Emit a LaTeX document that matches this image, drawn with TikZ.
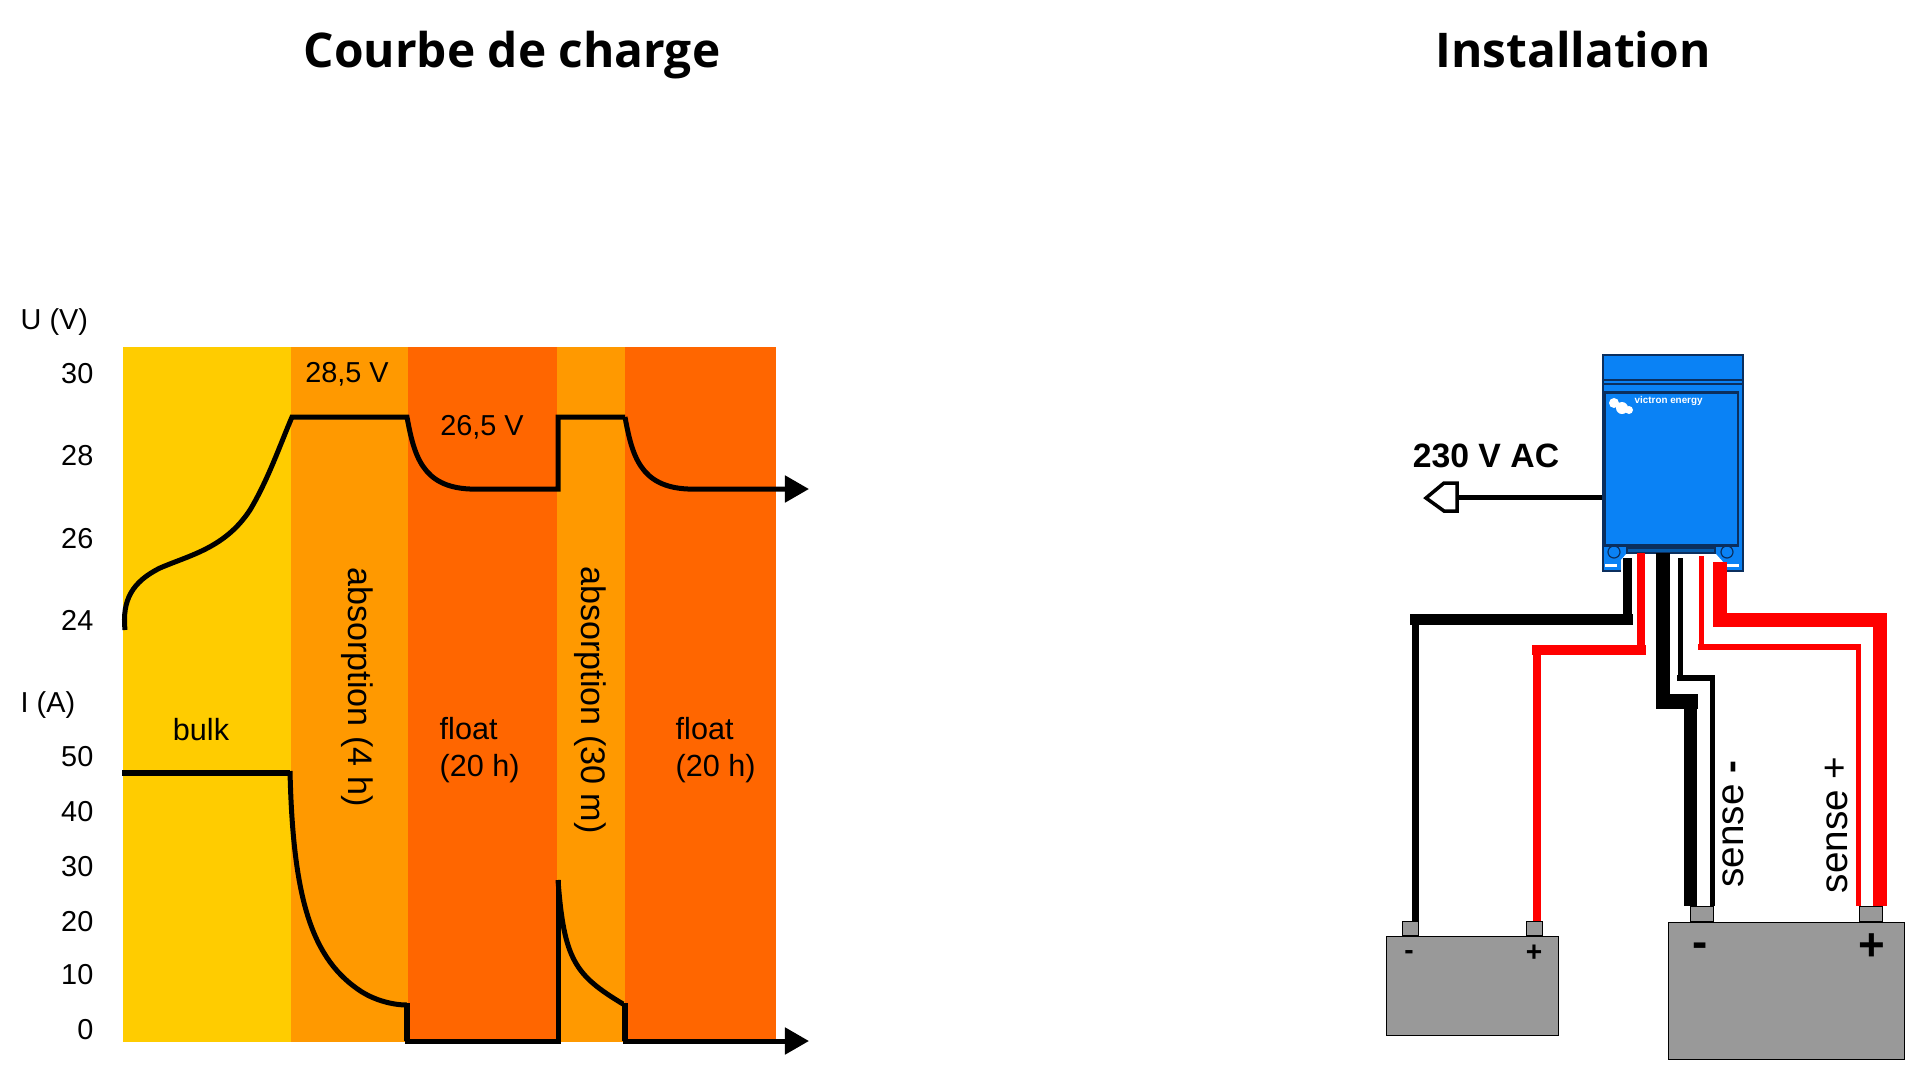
\documentclass[tikz,border=0pt]{standalone}
\usepackage{fontspec}
\setmainfont{Liberation Sans}
\newfontfamily\titlefont{Open Sans}
\usetikzlibrary{arrows.meta}
\definecolor{bulkcol}{HTML}{FFCC00}
\definecolor{abscol}{HTML}{FF9900}
\definecolor{floatcol}{HTML}{FF6600}
\definecolor{devblue}{HTML}{0A82F5}
\definecolor{devedge}{HTML}{0B2F5E}
\definecolor{batgray}{HTML}{999999}
\definecolor{wirered}{HTML}{FF0000}
\tikzstyle{band} = [rectangle, anchor = north west, inner sep = 0pt, draw = none,
  minimum height = 6.95cm]
\tikzstyle{title} = [anchor = base, font = \titlefont\bfseries\fontsize{13.6}{16}\selectfont]
\tikzstyle{tick} = [anchor = east, inner sep = 0pt, font = \fontsize{8.2}{10}\selectfont]
\tikzstyle{label} = [inner sep = 0pt, font = \fontsize{8.2}{10}\selectfont]
\tikzstyle{phase} = [inner sep = 0pt, rotate = -90, font = \fontsize{9.7}{12}\selectfont]
\tikzstyle{floatlabel} = [inner sep = 0pt, anchor = north west, align = left,
  font = \fontsize{8.7}{10.4}\selectfont]
\tikzstyle{curve} = [line width = 0.05cm, line join = miter]
\tikzstyle{arrow} = [curve, -{Triangle[length = 0.24cm, width = 0.26cm]}]
\tikzstyle{battery} = [rectangle, anchor = north west, inner sep = 0pt, draw = black,
  fill = batgray, line width = 0.012cm]
\tikzstyle{terminal} = [battery, anchor = south west, minimum height = 0.14cm]
\tikzstyle{pole} = [inner sep = 0pt, font = \bfseries\fontsize{8}{10}\selectfont]
\tikzstyle{bigpole} = [inner sep = 0pt, font = \bfseries\fontsize{13}{15}\selectfont]
\tikzstyle{sense} = [inner sep = 0pt, rotate = 90, font = \fontsize{11}{13}\selectfont]
\tikzset{wire/.style = {line width = #1 * 0.01cm, line cap = rect}}

\begin{document}
\begin{tikzpicture}[x = 0.01cm, y = -0.01cm]
  \useasboundingbox (0, 0) rectangle (1920, 1081);

  \node (title-curve) [title] at (512, 67) {Courbe de charge};
  \node (title-install) [title] at (1573, 67) {Installation};

  % charge curve
  \node (bulk) [band, fill = bulkcol, minimum width = 1.68cm] at (122, 346) {};
  \node (abs-1) [band, fill = abscol, minimum width = 1.17cm] at (290, 346) {};
  \node (float-1) [band, fill = floatcol, minimum width = 1.49cm] at (407, 346) {};
  \node (abs-2) [band, fill = abscol, minimum width = 0.68cm] at (556, 346) {};
  \node (float-2) [band, fill = floatcol, minimum width = 1.51cm] at (624, 346) {};

  \node (u-unit) [label, anchor = west] at (20, 322) {U (V)};
  \node (i-unit) [label, anchor = west] at (20, 705) {I (A)};
  \foreach \val/\ypos in {30/374, 28/456, 26/539, 24/620}
    \node (u-\val) [tick] at (94, \ypos) {\val};
  \foreach \val/\ypos in {50/757, 40/812, 30/867, 20/922, 10/975, 0/1030}
    \node (i-\val) [tick] at (94, \ypos) {\val};

  \node (volt-abs) [label] at (347, 374) {28,5 V};
  \node (volt-float) [label] at (482, 427) {26,5 V};
  \node (bulk-label) [floatlabel, anchor = center] at (201, 730) {bulk};
  \node (abs-label-1) [phase] at (357, 687) {absorption (4 h)};
  \node (abs-label-2) [phase] at (590, 700) {absorption (30 m)};
  \node (float-label-1) [floatlabel] at (439, 717) {float\\(20 h)};
  \node (float-label-2) [floatlabel] at (675, 717) {float\\(20 h)};

  \draw [curve] (125, 630) .. controls (122, 600) and (132, 582) .. (160, 568)
    .. controls (190, 555) and (225, 548) .. (250, 510)
    .. controls (268, 480) and (280, 445) .. (292, 417) -- (407, 417)
    .. controls (414, 455) and (422, 487) .. (470, 489) -- (558, 489) -- (558, 417) -- (625, 417);
  \draw [arrow] (625, 417) .. controls (632, 455) and (640, 487) .. (688, 489) -- (809, 489);

  \draw [line width = 0.055cm] (122, 773) -- (290, 773);
  \draw [curve] (290, 771) .. controls (293, 900) and (312, 960) .. (362, 992)
    .. controls (375, 1000) and (392, 1005) .. (407, 1005);
  \draw [line width = 0.055cm] (407, 1003) -- (407, 1041);
  \draw [curve] (405, 1041) -- (558, 1041) -- (558, 880);
  \draw [curve] (558, 880) .. controls (564, 960) and (575, 975) .. (623, 1004);
  \draw [line width = 0.055cm] (625, 1003) -- (625, 1041);
  \draw [arrow] (623, 1041) -- (809, 1041);

  % charger
  \node (charger) [rectangle, anchor = north west, inner sep = 0pt, draw = devedge,
    line width = 0.018cm, fill = devblue, minimum width = 1.40cm, minimum height = 2.16cm]
    at (1602, 354) {};
  \draw [devedge, line width = 0.025cm] (1602, 380) -- (1742, 380);
  \draw [devedge, line width = 0.012cm] (1602, 384) -- (1742, 384);
  \node (panel) [rectangle, anchor = north west, inner sep = 0pt, draw = devedge,
    line width = 0.025cm, fill = devblue, minimum width = 1.335cm, minimum height = 1.53cm]
    at (1603, 391) {};
  \fill [white] (1621, 573) -- (1621, 560) -- (1627, 553) -- (1715, 553) -- (1724, 563)
    -- (1724, 573) -- cycle;
  \draw [devedge, fill = devblue!70!black, line width = 0.012cm] (1627, 548) rectangle (1715, 553);
  \fill [white] (1605, 564) rectangle (1617, 567);
  \fill [white] (1727, 564) rectangle (1739, 567);
  \node (screw-1) [circle, draw = devedge, inner sep = 0pt, minimum size = 0.12cm,
    line width = 0.012cm] at (1614, 552) {};
  \node (screw-2) [circle, draw = devedge, inner sep = 0pt, minimum size = 0.12cm,
    line width = 0.012cm] at (1727, 552) {};
  \node (brand) [inner sep = 0pt, anchor = west, white,
    font = \bfseries\fontsize{2.8}{4}\selectfont] at (1634, 401) {victron energy};
  \fill [white] (1614, 403) circle (5) (1622, 408) circle (6) (1629, 410) circle (4);

  \node (ac-label) [inner sep = 0pt, font = \bfseries\fontsize{9.6}{11}\selectfont]
    at (1486, 456) {230 V AC};
  \coordinate (ac-out) at (1602, 497);
  \coordinate (plug) at (1457, 497);
  \draw [line width = 0.05cm] (ac-out) -- (plug);
  \draw [line width = 0.035cm, fill = white] (plug) ++(0, -14) -- ++(-13, 0) -- ++(-18, 15)
    -- ++(18, 13) -- ++(13, 0) -- cycle;

  % batteries
  \node (bat-1) [battery, minimum width = 1.72cm, minimum height = 0.99cm] at (1386, 936) {};
  \node (bat-1-neg) [terminal, minimum width = 0.16cm] at (1402, 936) {};
  \node (bat-1-pos) [terminal, minimum width = 0.16cm] at (1526, 936) {};
  \node (bat-2) [battery, minimum width = 2.36cm, minimum height = 1.37cm] at (1668, 922) {};
  \node (bat-2-neg) [terminal, minimum width = 0.23cm, minimum height = 0.15cm] at (1690, 922) {};
  \node (bat-2-pos) [terminal, minimum width = 0.23cm, minimum height = 0.15cm] at (1859, 922) {};
  \node (bat-1-minus) [pole] at (1409, 955) {-};
  \node (bat-1-plus) [pole] at (1534, 953) {+};
  \node (bat-2-minus) [bigpole] at (1700, 950) {-};
  \node (bat-2-plus) [bigpole] at (1872, 947) {+};

  \node (sense-neg) [sense] at (1733, 824) {sense \textbf{-}};
  \node (sense-pos) [sense] at (1837, 825) {sense +};

  % wires
  \coordinate (out-black) at (1627, 562);
  \coordinate (knee-black) at (1415, 619);
  \draw [wire = 9] (out-black) -- (out-black |- knee-black);
  \draw [wire = 11] (out-black |- knee-black) -- (knee-black);
  \draw [wire = 7, line cap = butt] (knee-black) -- (knee-black |- bat-1-neg.north);

  \coordinate (out-red) at (1641, 557);
  \coordinate (knee-red) at (1537, 650);
  \draw [wirered, wire = 8] (out-red) -- (out-red |- knee-red);
  \draw [wirered, wire = 10] (out-red |- knee-red) -- (knee-red);
  \draw [wirered, wire = 8, line cap = butt] (knee-red) -- (knee-red |- bat-1-pos.north);

  \coordinate (out-main) at (1663, 560);
  \coordinate (knee-main) at (1690, 701);
  \draw [wire = 14] (out-main) -- (out-main |- knee-main);
  \draw [wire = 15] (out-main |- knee-main) -- (knee-main);
  \draw [wire = 13, line cap = butt] (knee-main) -- (knee-main |- bat-2-neg.north);

  \coordinate (out-sense-neg) at (1680, 560);
  \coordinate (knee-sense-neg) at (1712, 678);
  \draw [wire = 5] (out-sense-neg) -- (out-sense-neg |- knee-sense-neg);
  \draw [wire = 6] (out-sense-neg |- knee-sense-neg) -- (knee-sense-neg);
  \draw [wire = 5, line cap = butt] (knee-sense-neg) -- (knee-sense-neg |- bat-2-neg.north);

  \coordinate (out-sense-pos) at (1701, 558);
  \coordinate (knee-sense-pos) at (1858, 647);
  \draw [wirered, wire = 5] (out-sense-pos) -- (out-sense-pos |- knee-sense-pos);
  \draw [wirered, wire = 6] (out-sense-pos |- knee-sense-pos) -- (knee-sense-pos);
  \draw [wirered, wire = 5, line cap = butt] (knee-sense-pos) -- (knee-sense-pos |- bat-2-pos.north);

  \coordinate (out-main-pos) at (1720, 569);
  \coordinate (knee-main-pos) at (1880, 620);
  \draw [wirered, wire = 14] (out-main-pos) -- (out-main-pos |- knee-main-pos);
  \draw [wirered, wire = 14] (out-main-pos |- knee-main-pos) -- (knee-main-pos);
  \draw [wirered, wire = 14, line cap = butt] (knee-main-pos) -- (knee-main-pos |- bat-2-pos.north);
\end{tikzpicture}
\end{document}
